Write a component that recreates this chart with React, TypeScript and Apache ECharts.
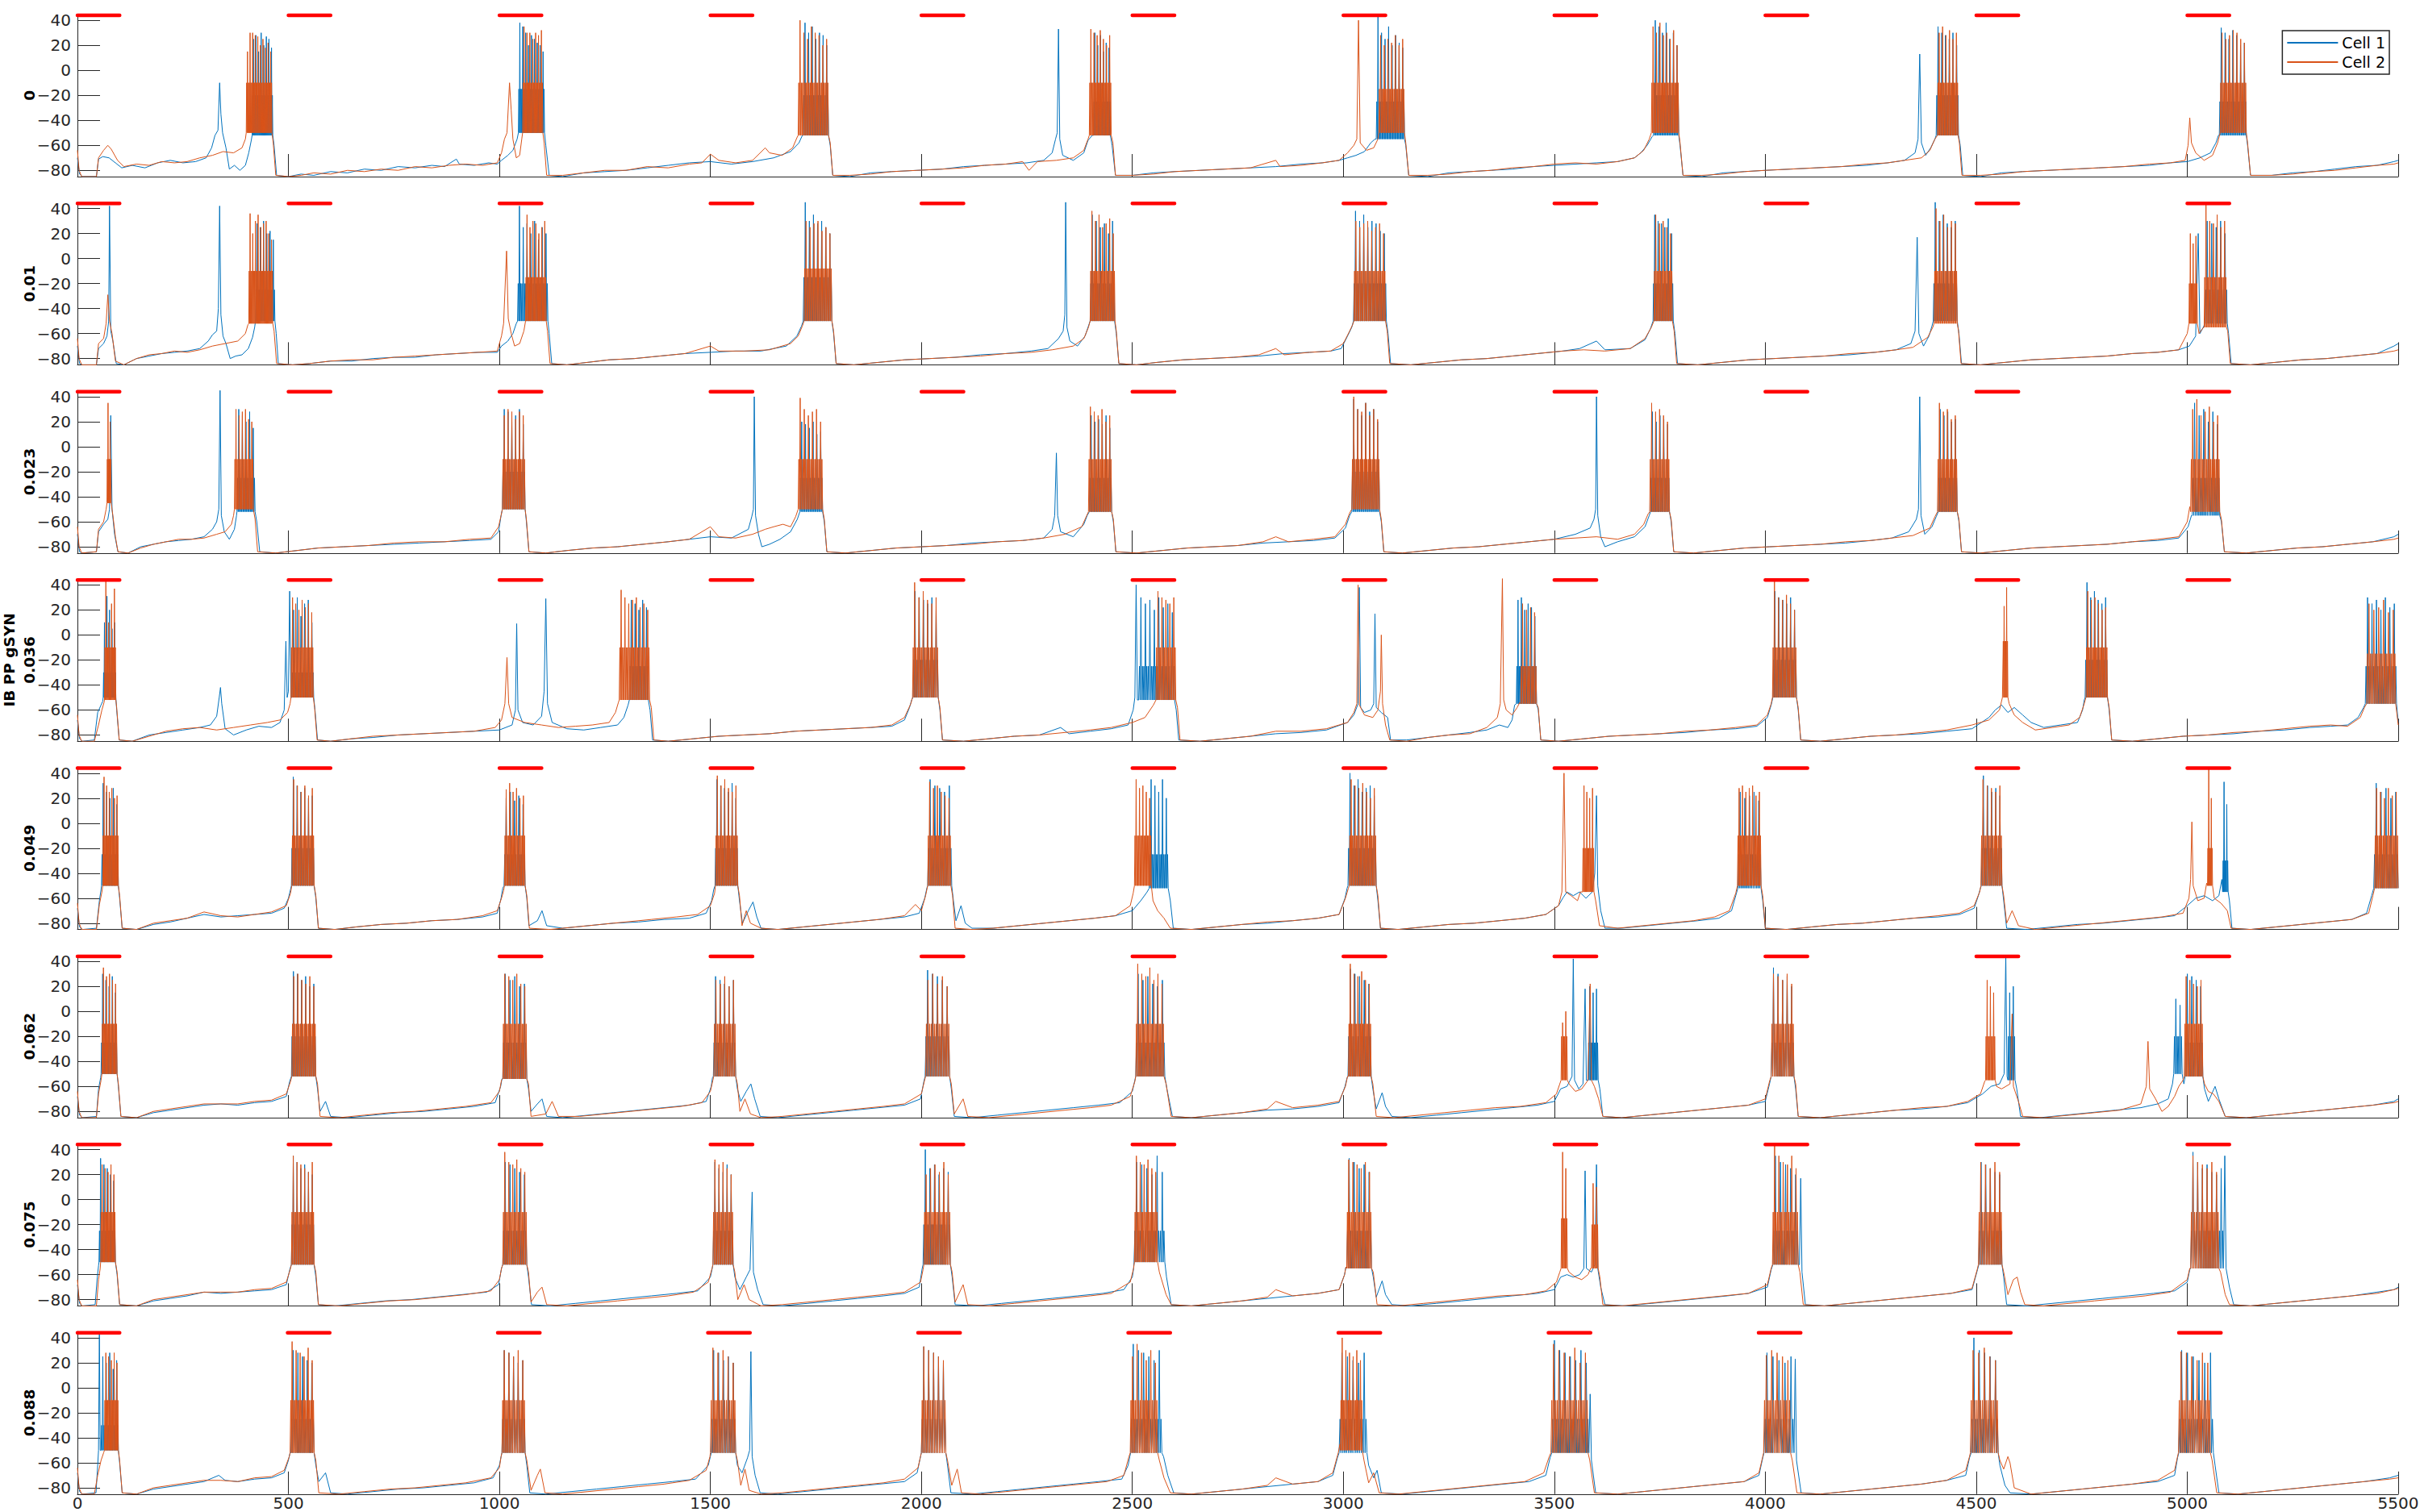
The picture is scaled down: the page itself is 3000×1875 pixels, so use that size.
import React, { useEffect, useRef } from "react";
import * as echarts from "echarts";

// ---------- labels / ticks ----------
const panelLabels = ["0", "0.01", "0.023", "IB PP gSYN\n0.036", "0.049", "0.062", "0.075", "0.088"];
const yTickValues = [-80, -60, -40, -20, 0, 20, 40];
const stimOnsets = [0, 500, 1000, 1500, 2000, 2500, 3000, 3500, 4000, 4500, 5000];
const stimOnsetsLast = [0, 498, 996, 1494, 1992, 2490, 2988, 3486, 3984, 4482, 4980];
const stimDuration = 100;
const stimLevel = 44;
const seriesNames = ["Cell 1", "Cell 2"];
const seriesColors = ["#0072BD", "#D95319"];

// ---------- traces: knots [t, v, t, v ...] ; bursts [t0, t1, low, fill, ...spike peaks] ----------
// Panel 1 (gSYN 0)
const p1Cell1Knots = [0,-70,5,-83,12,-85,45,-85,50,-71,60,-69,75,-70,90,-74,105,-78,130,-76,160,-78,190,-74,220,-72,250,-74,280,-73,305,-70,318,-62,326,-52,333,-48,337,-10,340,-35,344,-50,352,-62,360,-79,372,-76,385,-80,398,-76,406,-66,412,-56,
466,-60,472,-84,500,-85,530,-83,560,-84,600,-81,640,-82,680,-79,720,-80,760,-77,800,-78,840,-76,870,-77,898,-71,905,-75,940,-76,975,-74,995,-75,1005,-72,1020,-68,1032,-64,1042,-55,
1110,-60,1118,-84,1150,-85,1200,-82,1250,-81,1300,-80,1350,-78,1400,-76,1450,-74,1500,-73,1550,-75,1600,-73,1650,-70,1690,-65,1710,-58,1718,-52,
1784,-60,1790,-84,1830,-85,1880,-82,1930,-81,1990,-80,2050,-79,2100,-77,2150,-76,2200,-75,2250,-74,2290,-72,2310,-66,2318,-55,2322,-50,2325,33,2328,-55,2335,-68,2360,-72,2385,-66,2395,-56,2405,-52,
2452,-60,2460,-84,2500,-84,2550,-82,2600,-81,2660,-80,2720,-79,2780,-78,2840,-77,2900,-75,2950,-74,2990,-72,3010,-70,3030,-68,3050,-65,3065,-58,3075,-55,
3148,-60,3155,-84,3200,-85,3250,-82,3300,-81,3350,-80,3400,-79,3450,-77,3500,-76,3550,-75,3600,-74,3650,-73,3690,-70,3705,-66,3720,-60,3732,-53,
3798,-60,3805,-84,3850,-85,3900,-82,3950,-81,4000,-80,4060,-79,4120,-78,4180,-77,4240,-76,4290,-74,4330,-72,4355,-66,4362,-55,4366,13,4370,-58,4380,-68,4392,-62,4402,-55,
4462,-60,4468,-84,4510,-85,4560,-82,4610,-81,4670,-80,4730,-79,4790,-78,4850,-77,4910,-76,4960,-74,5000,-73,5030,-70,5055,-66,5068,-58,5074,-52,
5143,-60,5150,-84,5200,-84,5250,-82,5300,-81,5350,-79,5400,-77,5450,-76,5490,-73,5500,-72];
const p1Cell1Bursts = [[414,463,-52,-20,25,28,15,30,20,27,25,18],[1045,1107,-50,-15,38,35,30,20,28,25,22,20,15],[1720,1780,-52,-20,38,30,35,25,30,28,20],[2408,2448,-52,-25,30,20,28,15,22,18],[3078,3145,-55,-25,44,30,25,35,20,28,22,18],[3735,3795,-52,-20,40,35,30,38,25,30,20],[4405,4458,-52,-20,35,30,28,25,30,20],[5076,5140,-52,-25,34,30,25,32,28,20,22]];
const p1Cell2Knots = [0,-64,4,-80,10,-85,45,-85,50,-70,62,-64,72,-60,80,-63,95,-72,110,-77,140,-75,170,-76,200,-73,230,-74,260,-73,290,-70,320,-68,345,-65,370,-66,390,-62,398,-55,
464,-58,470,-84,500,-85,530,-84,560,-82,600,-83,640,-80,680,-81,720,-79,760,-80,800,-77,840,-78,880,-76,920,-75,960,-76,995,-74,1005,-66,1012,-55,1018,-50,1024,-10,1028,-32,1032,-55,1040,-70,1048,-68,1053,-55,
1106,-58,1112,-84,1150,-84,1200,-82,1250,-80,1300,-80,1350,-77,1400,-78,1450,-75,1480,-74,1500,-67,1520,-72,1560,-74,1600,-72,1630,-62,1640,-66,1670,-68,1695,-62,1705,-54,
1784,-58,1790,-84,1830,-84,1880,-83,1930,-81,1990,-80,2050,-79,2100,-78,2150,-76,2200,-75,2240,-73,2255,-80,2275,-73,2320,-72,2360,-70,2385,-64,2395,-55,
2454,-58,2460,-84,2500,-84,2550,-83,2600,-81,2660,-80,2720,-79,2780,-78,2840,-72,2850,-77,2900,-76,2950,-74,2990,-72,3010,-66,3025,-60,3032,-55,3036,40,3040,-58,3055,-64,3072,-62,3082,-55,
3148,-58,3155,-84,3200,-84,3250,-83,3300,-81,3350,-80,3400,-78,3450,-77,3500,-75,3550,-74,3600,-75,3650,-73,3690,-70,3712,-64,3725,-55,
3798,-58,3805,-84,3850,-84,3900,-83,3950,-81,4000,-80,4060,-79,4120,-78,4180,-77,4240,-75,4290,-74,4330,-72,4370,-70,4390,-64,4402,-55,
4460,-58,4466,-84,4510,-84,4560,-83,4610,-81,4670,-80,4730,-79,4790,-78,4850,-77,4910,-75,4960,-74,4995,-72,5002,-60,5006,-38,5010,-58,5020,-66,5040,-72,5060,-68,5072,-58,
5143,-58,5150,-84,5200,-84,5250,-83,5300,-81,5350,-80,5400,-78,5450,-76,5490,-75,5500,-74];
const p1Cell2Bursts = [[400,461,-50,-10,15,30,30,28,27,20,25,18,22,15],[1055,1103,-50,-10,35,30,30,25,30,28,32],[1708,1780,-52,-10,40,30,25,35,30,28,20,25],[2398,2450,-52,-10,33,30,28,32,25,20,28],[3084,3145,-50,-15,28,20,25,22,28,20,25],[3730,3795,-50,-10,35,30,38,28,30,25,32,20],[4408,4457,-52,-10,30,35,28,32,25,30],[5078,5140,-50,-10,30,25,28,32,30,25,22]];

// Panel 2 (gSYN 0.01)
const p2Cell1Knots = [0,-70,5,-84,12,-85,45,-85,50,-72,62,-68,70,-62,74,-50,76,42,79,-58,84,-66,92,-84,110,-85,140,-80,170,-78,200,-76,230,-75,260,-74,290,-72,310,-66,320,-61,330,-58,334,-40,337,42,340,-45,345,-62,352,-68,362,-80,375,-78,390,-77,405,-72,415,-63,420,-55,
471,-60,476,-84,510,-85,550,-84,600,-82,650,-82,700,-80,750,-79,800,-79,850,-77,900,-76,950,-75,995,-75,1005,-70,1020,-66,1032,-60,1040,-52,
1118,-60,1124,-84,1160,-85,1210,-83,1260,-81,1320,-80,1380,-78,1440,-76,1500,-75,1560,-74,1620,-74,1680,-70,1705,-62,1716,-54,
1792,-60,1798,-84,1840,-85,1900,-83,1960,-81,2020,-80,2080,-79,2140,-77,2200,-76,2260,-74,2300,-72,2325,-64,2336,-58,2340,-45,2342,45,2345,-55,2352,-66,2370,-70,2388,-62,2396,-54,
2462,-60,2468,-84,2510,-85,2560,-83,2620,-81,2680,-80,2740,-79,2800,-78,2860,-76,2920,-75,2970,-74,2995,-72,3010,-62,3020,-55,
3106,-60,3112,-84,3160,-85,3220,-83,3280,-81,3340,-80,3400,-78,3460,-76,3520,-74,3560,-72,3600,-66,3620,-73,3680,-72,3715,-65,3728,-56,
3786,-60,3792,-84,3840,-85,3900,-83,3960,-81,4020,-80,4080,-79,4140,-78,4200,-77,4260,-75,4310,-73,4345,-68,4355,-58,4360,17,4364,-60,4375,-70,4388,-62,4395,-54,
4459,-60,4465,-84,4510,-85,4570,-83,4630,-81,4690,-80,4750,-79,4810,-78,4870,-76,4930,-75,4980,-73,5005,-70,5020,-62,5026,20,5030,-60,5038,-55,
5098,-60,5104,-84,5150,-85,5210,-83,5270,-81,5330,-80,5390,-78,5450,-76,5490,-70,5500,-68];
const p2Cell1Bursts = [[422,468,-50,-25,28,25,30,20,22,15],[1043,1115,-50,-20,42,25,28,20,30,15,25,20],[1720,1788,-50,-15,45,30,35,28,30,25,20],[2400,2458,-50,-20,35,30,25,28,20,30],[3024,3102,-50,-20,38,30,35,25,30,28,22,20],[3734,3782,-50,-20,35,30,28,25,32,20],[4398,4455,-50,-20,45,30,35,28,25,30],[5042,5095,-52,-25,30,28,25,30,20]];
const p2Cell2Knots = [0,-64,4,-80,10,-85,45,-85,50,-68,62,-64,68,-52,72,-29,76,-50,82,-60,90,-82,110,-85,140,-80,170,-77,200,-76,230,-74,260,-75,290,-73,320,-70,350,-68,380,-66,398,-60,404,-53,
466,-58,472,-84,510,-85,550,-84,600,-82,650,-81,700,-81,750,-79,800,-78,850,-77,900,-76,950,-75,995,-74,1005,-62,1010,-52,1017,6,1021,-48,1028,-60,1036,-70,1048,-68,1058,-58,
1114,-58,1120,-84,1160,-85,1210,-83,1260,-81,1320,-80,1380,-78,1440,-76,1500,-70,1520,-74,1580,-74,1640,-73,1690,-68,1708,-62,1718,-54,
1792,-58,1798,-84,1840,-85,1900,-83,1960,-81,2020,-80,2080,-79,2140,-78,2200,-76,2260,-75,2310,-73,2360,-70,2385,-64,2396,-55,
2462,-58,2468,-84,2510,-85,2560,-83,2620,-81,2680,-80,2740,-79,2800,-77,2840,-72,2860,-77,2920,-75,2970,-74,3000,-68,3015,-58,3022,-53,
3104,-58,3110,-84,3160,-85,3220,-83,3280,-81,3340,-80,3400,-78,3460,-76,3520,-74,3570,-73,3620,-74,3680,-72,3715,-64,3730,-55,
3784,-58,3790,-84,3840,-85,3900,-83,3960,-81,4020,-80,4080,-79,4140,-78,4200,-76,4260,-75,4310,-73,4350,-71,4385,-63,4397,-55,
4458,-58,4464,-84,4510,-85,4570,-83,4630,-81,4690,-80,4750,-79,4810,-78,4870,-76,4930,-75,4980,-73,5000,-60,5028,-60,5036,-56,
5096,-58,5102,-84,5150,-85,5210,-83,5270,-81,5330,-80,5390,-78,5450,-76,5490,-74,5500,-73];
const p2Cell2Bursts = [[406,463,-52,-10,36,20,30,35,25,28,30,20,15],[1062,1111,-50,-15,35,25,30,28,20,25,30],[1722,1788,-50,-8,30,25,28,30,22,25,20],[2400,2459,-50,-10,38,30,35,25,28,32,20],[3025,3100,-50,-10,30,25,28,30,22,25,28,20],[3736,3780,-50,-10,35,28,30,25,20],[4400,4455,-52,-10,40,30,35,25,30,28],[5004,5024,-52,-20,20,12,18],[5040,5093,-55,-15,45,30,28,35,25,30]];

// Panel 3 (gSYN 0.023)
const p3Cell1Knots = [0,-70,5,-84,12,-85,45,-84,50,-68,62,-62,72,-58,76,-50,79,25,82,-50,88,-70,96,-84,120,-85,150,-80,180,-78,210,-76,240,-75,270,-74,300,-72,320,-66,330,-60,335,-50,338,45,341,-55,348,-68,360,-74,372,-66,377,-55,
425,-60,432,-84,470,-85,520,-83,570,-81,630,-80,690,-79,750,-78,810,-77,870,-76,930,-75,980,-74,998,-68,1004,-55,
1064,-60,1070,-84,1110,-85,1160,-83,1220,-81,1280,-80,1340,-78,1400,-76,1450,-74,1500,-72,1550,-73,1590,-66,1598,-56,1602,-50,1604,40,1607,-55,1614,-70,1622,-80,1640,-78,1665,-74,1690,-68,1706,-58,
1770,-60,1776,-84,1820,-85,1880,-83,1940,-81,2000,-80,2060,-79,2120,-77,2180,-76,2240,-75,2290,-73,2310,-66,2316,-55,2320,-5,2323,-55,2330,-68,2360,-72,2385,-62,2393,-55,
2455,-60,2461,-84,2510,-85,2570,-83,2630,-81,2690,-80,2750,-79,2810,-77,2870,-76,2930,-75,2980,-73,3005,-65,3015,-55,
3090,-60,3096,-84,3140,-85,3200,-83,3260,-81,3320,-80,3380,-78,3440,-76,3500,-74,3550,-70,3585,-65,3594,-58,3598,-50,3600,40,3603,-55,3610,-72,3620,-80,3650,-76,3690,-72,3715,-64,3725,-55,
3777,-60,3783,-84,3830,-85,3890,-83,3950,-81,4010,-80,4070,-79,4130,-78,4190,-77,4250,-75,4300,-73,4340,-68,4358,-58,4363,-50,4366,40,4369,-55,4378,-70,4395,-64,4405,-56,
4459,-60,4465,-84,4510,-85,4570,-83,4630,-81,4690,-80,4750,-79,4810,-78,4870,-76,4930,-75,4980,-73,5002,-64,5010,-55,
5081,-60,5088,-84,5140,-85,5200,-83,5260,-81,5320,-80,5380,-78,5440,-76,5490,-72,5500,-70];
const p3Cell1Bursts = [[378,421,-52,-25,30,25,20,28,15],[1007,1061,-50,-20,30,28,20,25,30,18],[1712,1766,-52,-25,20,18,15,20,10,12],[2398,2451,-52,-25,25,20,22,18,25,15],[3020,3086,-52,-20,38,30,25,35,28,30,20],[3728,3773,-52,-25,28,20,25,22,18],[4410,4455,-52,-25,30,25,28,20,22],[5012,5077,-55,-25,35,25,30,20,28,18]];
const p3Cell2Knots = [0,-64,4,-80,10,-85,45,-84,50,-66,62,-60,68,-50,84,-55,90,-72,96,-84,120,-85,150,-81,180,-78,210,-76,240,-74,270,-74,300,-73,330,-70,350,-68,365,-62,370,-55,
421,-58,427,-84,470,-85,520,-83,570,-81,630,-80,690,-79,750,-77,810,-76,870,-76,930,-74,980,-73,998,-64,1004,-55,
1064,-58,1070,-84,1110,-85,1160,-83,1220,-81,1280,-80,1340,-78,1400,-76,1450,-74,1500,-64,1520,-72,1560,-73,1600,-70,1630,-66,1650,-64,1672,-62,1690,-64,1702,-56,
1770,-58,1776,-84,1820,-85,1880,-83,1940,-81,2000,-80,2060,-79,2120,-78,2180,-76,2240,-75,2290,-73,2340,-70,2380,-64,2392,-55,
2455,-58,2461,-84,2510,-85,2570,-83,2630,-81,2690,-80,2750,-79,2810,-76,2840,-72,2870,-76,2930,-74,2980,-72,3005,-62,3015,-53,
3090,-58,3096,-84,3140,-85,3200,-83,3260,-81,3320,-80,3380,-78,3440,-76,3500,-74,3550,-73,3600,-72,3650,-74,3690,-70,3712,-62,3722,-54,
3777,-58,3783,-84,3830,-85,3890,-83,3950,-81,4010,-80,4070,-79,4130,-78,4190,-76,4250,-75,4300,-73,4350,-71,4390,-65,4402,-56,
4459,-58,4465,-84,4510,-85,4570,-83,4630,-81,4690,-80,4750,-79,4810,-78,4870,-76,4930,-74,4980,-72,5000,-60,5006,-48,
5081,-58,5088,-84,5140,-85,5200,-83,5260,-81,5320,-80,5380,-78,5440,-76,5490,-74,5500,-73];
const p3Cell2Bursts = [[70,80,-45,-10,35,20],[372,417,-50,-10,30,25,28,30,22,20],[1007,1061,-50,-10,25,30,28,22,28,25],[1708,1766,-50,-10,39,30,25,28,30,20],[2396,2451,-52,-10,32,28,25,30,20,25],[3020,3086,-50,-10,40,30,28,35,25,30,22],[3726,3773,-52,-10,35,28,30,25,20],[4408,4455,-52,-10,35,28,30,22,25],[5008,5077,-52,-10,30,38,25,28,32,20,25]];

// Panel 4 (gSYN 0.036)
const p4Cell1Knots = [0,-68,5,-83,12,-85,40,-84,48,-62,56,-56,60,-53,
93,-60,99,-84,130,-85,170,-80,210,-78,250,-76,290,-74,315,-72,330,-65,336,-50,339,-42,342,-55,350,-75,370,-80,400,-76,430,-73,460,-74,480,-70,490,-60,494,-5,497,-50,500,-45,503,35,506,-50,
563,-60,569,-84,600,-85,650,-83,700,-82,760,-80,820,-79,880,-78,940,-77,1000,-76,1030,-72,1038,-60,1041,9,1044,-60,1055,-70,1080,-72,1100,-65,1106,-45,1110,29,1114,-55,1125,-70,1160,-75,1200,-76,1240,-74,1280,-72,1295,-66,1305,-56,
1357,-60,1363,-84,1400,-85,1460,-83,1520,-81,1580,-80,1640,-79,1700,-77,1760,-76,1820,-75,1880,-74,1930,-73,1960,-68,1972,-58,1977,-52,
2044,-60,2050,-84,2100,-85,2160,-83,2220,-81,2280,-80,2330,-74,2350,-79,2400,-77,2450,-75,2490,-72,2502,-60,2506,-50,2509,40,2512,-52,
2604,-60,2610,-84,2660,-85,2720,-83,2780,-81,2840,-79,2900,-78,2960,-76,3010,-70,3025,-64,3035,-55,3038,38,3041,-58,3050,-62,3065,-60,3072,-55,3075,17,3078,-58,3090,-62,3105,-66,3112,-84,3150,-84,3200,-82,3250,-80,3300,-78,3340,-76,3370,-72,3390,-74,3400,-68,3406,-56,
3462,-60,3468,-84,3510,-85,3570,-83,3630,-81,3690,-80,3750,-79,3810,-78,3870,-76,3930,-75,3980,-73,4005,-66,4014,-56,
4078,-60,4084,-84,4130,-85,4190,-83,4250,-81,4310,-80,4370,-79,4430,-77,4490,-75,4530,-66,4545,-60,4560,-56,4575,-62,4590,-58,4610,-64,4630,-70,4660,-74,4700,-72,4740,-70,4752,-60,4756,-52,
4815,-60,4821,-84,4870,-85,4930,-83,4990,-81,5050,-80,5110,-79,5170,-77,5230,-76,5290,-74,5340,-73,5380,-72,5405,-66,5418,-58,
5500,-70];
const p4Cell1Bursts = [[61,91,-50,-30,10,31,20,5,10],[508,560,-50,-30,20,30,15,25,28,10],[1308,1353,-52,-25,28,25,20,28,22],[1980,2040,-50,-20,35,30,28,25,30,20],[2515,2600,-52,-25,30,25,28,20,30,22,25,18],[3410,3458,-55,-25,28,30,20,25,22,15],[4018,4074,-50,-20,35,30,28,25,30,20],[4758,4811,-50,-20,42,30,35,28,25,30],[5422,5496,-55,-25,30,25,28,20,30,22,25]];
const p4Cell2Knots = [0,-64,4,-80,10,-85,40,-85,50,-72,58,-60,63,-54,
93,-58,99,-84,130,-85,170,-81,210,-77,250,-75,290,-74,330,-76,370,-74,410,-72,450,-70,480,-68,498,-62,504,-55,
562,-58,568,-84,600,-85,650,-83,700,-81,760,-80,820,-79,880,-78,940,-77,990,-74,1005,-68,1013,-55,1018,-18,1022,-55,1030,-66,1060,-70,1100,-72,1140,-74,1180,-73,1220,-72,1260,-70,1275,-62,1282,-54,
1360,-58,1366,-84,1400,-85,1460,-83,1520,-81,1580,-80,1640,-79,1700,-77,1760,-76,1820,-75,1880,-74,1930,-72,1960,-66,1975,-55,
2044,-58,2050,-84,2100,-85,2160,-83,2220,-81,2280,-80,2340,-78,2400,-76,2450,-74,2500,-70,2530,-66,2550,-56,
2607,-58,2613,-84,2660,-85,2720,-83,2780,-81,2840,-77,2900,-77,2960,-75,3010,-70,3025,-62,3032,-55,3035,40,3038,-56,3050,-64,3070,-66,3082,-60,3088,-45,3090,0,3093,-55,3100,-72,3110,-84,3150,-85,3200,-82,3250,-80,3300,-79,3340,-74,3365,-66,3372,-55,3377,45,3380,-52,3386,-60,3400,-64,3412,-58,3418,-54,
3462,-58,3468,-84,3510,-85,3570,-83,3630,-81,3690,-80,3750,-79,3810,-77,3870,-76,3930,-74,3980,-72,4005,-64,4014,-55,
4078,-58,4084,-84,4130,-85,4190,-83,4250,-81,4310,-80,4370,-78,4430,-76,4490,-72,4530,-68,4555,-60,4562,-50,
4578,-55,4590,-64,4610,-70,4640,-76,4680,-74,4720,-72,4745,-66,4755,-56,
4815,-58,4821,-84,4870,-85,4930,-83,4990,-81,5050,-80,5110,-78,5170,-77,5230,-75,5290,-73,5340,-72,5380,-73,5410,-66,5420,-58,
5500,-72];
const p4Cell2Bursts = [[64,91,-52,-10,45,10,25,37],[506,559,-50,-10,30,25,20,28,22,25,18],[1284,1356,-52,-10,36,30,25,28,30,22,25,20],[1979,2040,-50,-10,42,30,35,28,25,30],[2556,2603,-52,-10,35,30,28,25,30],[3420,3458,-55,-25,25,20,22,18],[4017,4074,-50,-10,45,30,28,32,25,20],[4563,4575,-50,-5,23,38],[4760,4811,-50,-10,35,28,30,25,20,22],[5425,5494,-55,-15,25,20,22,28,18,20]];

// Panel 5 (gSYN 0.049)
const p5Cell1Knots = [0,-68,5,-83,12,-85,45,-84,52,-62,56,-53,
100,-60,106,-84,140,-85,180,-81,220,-79,260,-76,300,-73,340,-75,380,-74,420,-73,460,-72,490,-68,500,-60,505,-53,
565,-60,571,-84,610,-85,660,-83,720,-81,780,-80,840,-78,900,-77,960,-75,995,-72,1004,-60,1008,-52,
1065,-60,1070,-82,1090,-78,1101,-70,1112,-82,1150,-84,1210,-82,1270,-80,1330,-79,1390,-77,1450,-76,1490,-72,1503,-62,1508,-53,
1569,-62,1576,-80,1590,-70,1601,-63,1610,-75,1620,-84,1660,-85,1720,-83,1780,-81,1840,-79,1900,-77,1960,-75,1995,-72,2008,-60,2013,-52,
2076,-62,2082,-78,2094,-66,2104,-80,2120,-84,2170,-84,2230,-82,2290,-80,2350,-78,2410,-76,2460,-74,2500,-70,2520,-62,2535,-55,
2590,-62,2597,-84,2640,-85,2700,-83,2760,-81,2820,-80,2880,-78,2940,-76,2990,-73,3004,-60,3009,-52,
3082,-62,3088,-84,3130,-85,3190,-83,3250,-81,3310,-80,3370,-78,3430,-76,3480,-73,3510,-66,3520,-60,3530,-55,3545,-58,3560,-55,3575,-60,3590,-55,3596,-40,3600,22,3603,-50,3610,-70,3620,-84,3660,-84,3720,-82,3780,-80,3840,-78,3890,-76,3920,-70,3930,-58,
3994,-62,4000,-84,4050,-85,4110,-83,4170,-81,4230,-80,4290,-78,4350,-76,4410,-75,4460,-73,4495,-68,4505,-58,4510,-52,
4565,-62,4572,-84,4620,-85,4680,-83,4740,-81,4800,-80,4860,-78,4920,-76,4970,-74,5000,-66,5020,-60,5040,-58,5060,-62,5075,-58,5082,-45,
5100,-62,5106,-84,5150,-85,5210,-83,5270,-81,5330,-79,5390,-77,5425,-72,5437,-58];
const p5Cell1Bursts = [[57,97,-50,-25,32,25,20,28,15],[507,561,-50,-20,37,30,25,28,20,22],[1011,1061,-50,-25,20,25,18,22,15],[1511,1565,-50,-20,35,30,28,25,32,20],[2015,2072,-50,-20,35,30,28,25,30],[2540,2585,-52,-25,35,30,25,35,20],[3011,3078,-50,-20,40,30,35,25,28,30,22],[3935,3990,-52,-25,25,20,22,25,18],[4512,4561,-50,-20,38,30,25,28,22],[5084,5097,-55,-30,33,15],[5442,5500,-52,-25,32,25,28,20,25]];
const p5Cell2Knots = [0,-64,4,-80,10,-85,45,-85,52,-65,58,-55,
100,-58,106,-84,140,-85,180,-80,220,-78,260,-76,300,-71,340,-74,380,-75,420,-73,460,-71,495,-66,505,-56,
565,-58,571,-84,610,-85,660,-83,720,-81,780,-80,840,-78,900,-77,960,-74,995,-70,1005,-60,1010,-54,
1065,-58,1071,-84,1120,-85,1180,-83,1240,-81,1300,-79,1360,-77,1420,-75,1470,-73,1500,-66,1510,-56,
1569,-58,1575,-82,1585,-70,1595,-80,1620,-84,1660,-85,1720,-83,1780,-81,1840,-79,1900,-77,1960,-74,1986,-65,2000,-70,2010,-58,
2074,-58,2080,-84,2120,-85,2170,-84,2230,-82,2290,-80,2350,-78,2410,-76,2460,-74,2495,-66,2502,-56,
2549,-62,2560,-70,2575,-76,2590,-84,2640,-85,2700,-83,2760,-81,2820,-79,2880,-78,2940,-76,2990,-73,3005,-60,3012,-52,
3082,-58,3088,-84,3130,-85,3190,-83,3250,-81,3310,-80,3370,-78,3430,-76,3480,-73,3510,-66,3518,-55,3523,40,3527,-55,3540,-58,3555,-62,3562,-55,
3598,-62,3607,-82,3650,-84,3710,-82,3770,-80,3830,-78,3880,-75,3915,-70,3930,-56,
3994,-58,4000,-84,4050,-85,4110,-83,4170,-81,4230,-80,4290,-78,4350,-76,4410,-74,4460,-72,4495,-66,4508,-55,
4565,-58,4572,-80,4585,-70,4600,-82,4640,-85,4700,-83,4760,-81,4820,-79,4880,-77,4940,-75,4990,-72,5004,-60,5008,-45,5011,1,5014,-50,5025,-62,5040,-60,5046,-48,
5064,-60,5080,-64,5095,-70,5104,-84,5150,-85,5210,-83,5270,-81,5330,-79,5390,-77,5430,-72,5440,-58];
const p5Cell2Bursts = [[60,97,-50,-10,37,30,25,28,20,22],[508,561,-50,-10,35,30,25,30,22,28],[1012,1061,-50,-10,27,32,25,28,20,22],[1512,1565,-50,-10,38,30,35,28,25,30],[2015,2070,-50,-10,33,28,30,25,22,20],[2505,2545,-50,-10,35,28,30,25,20],[3014,3078,-50,-10,35,30,28,32,25,20,28],[3567,3594,-55,-20,30,25,20,28],[3934,3990,-50,-10,28,30,25,28,30,22,25],[4511,4561,-50,-10,35,30,28,25,30],[5048,5060,-50,-20,45,20],[5444,5500,-52,-10,28,25,20,28,22,25]];

// Panel 6 (gSYN 0.062)
const p6Cell1Knots = [0,-68,5,-83,12,-85,45,-84,50,-62,55,-53,
97,-60,103,-84,140,-85,180,-81,220,-79,260,-77,300,-75,340,-74,380,-75,420,-73,460,-72,495,-68,503,-56,
569,-62,575,-80,588,-72,600,-84,640,-85,700,-83,760,-81,820,-80,880,-78,940,-76,990,-73,1003,-60,1006,-54,
1069,-62,1075,-80,1090,-74,1101,-70,1112,-84,1150,-85,1210,-83,1270,-81,1330,-79,1390,-77,1450,-75,1490,-72,1502,-60,1505,-53,
1564,-62,1572,-72,1585,-64,1596,-58,1605,-70,1618,-84,1660,-85,1720,-83,1780,-81,1840,-79,1900,-77,1960,-75,1998,-70,2006,-56,
2071,-62,2078,-84,2120,-85,2180,-83,2240,-81,2300,-79,2360,-77,2420,-75,2470,-73,2500,-64,2506,-55,
2582,-62,2595,-84,2640,-85,2700,-83,2760,-81,2820,-79,2880,-78,2940,-76,2990,-73,3004,-60,3009,-53,
3070,-62,3078,-78,3092,-65,3100,-76,3115,-84,3160,-85,3220,-83,3280,-81,3340,-79,3400,-77,3460,-75,3500,-72,3515,-62,3530,-60,3542,-52,3545,42,3548,-55,3558,-62,3568,-58,3573,18,3576,-55,
3608,-62,3615,-84,3660,-85,3720,-83,3780,-81,3840,-79,3900,-77,3960,-75,4000,-72,4010,-58,
4072,-62,4078,-84,4130,-85,4190,-83,4250,-81,4310,-79,4370,-78,4430,-76,4480,-73,4515,-66,4535,-60,4555,-58,4566,-50,4570,45,4573,-52,
4596,-62,4605,-84,4650,-85,4710,-83,4770,-81,4830,-79,4890,-77,4930,-74,4955,-70,4965,-58,4992,-58,
5041,-62,5050,-72,5066,-60,5075,-70,5090,-84,5140,-85,5200,-83,5260,-81,5320,-79,5380,-77,5440,-75,5490,-72,5500,-70];
const p6Cell1Bursts = [[56,94,-50,-25,30,25,20,28,15],[507,565,-52,-20,32,30,25,28,20,22],[1008,1065,-54,-25,30,25,28,20,22],[1507,1560,-52,-25,28,25,22,20,25],[2009,2067,-52,-20,33,30,28,25,20],[2508,2577,-52,-25,30,25,28,22,20,25],[3011,3066,-52,-20,34,30,28,25,22],[3580,3604,-55,-25,20,15,18],[4014,4068,-52,-25,35,30,25,28,20],[4575,4592,-55,-20,15,20],[4968,4988,-50,-20,10,5],[4995,5037,-52,-25,30,28,25,20]];
const p6Cell2Knots = [0,-64,4,-80,10,-85,45,-85,50,-66,56,-55,
97,-58,103,-84,140,-85,180,-80,220,-78,260,-76,300,-74,340,-74,380,-74,420,-72,460,-71,495,-66,505,-56,
569,-58,575,-84,620,-85,680,-83,740,-81,800,-80,860,-78,920,-76,980,-73,1000,-64,1005,-55,
1069,-58,1075,-84,1110,-82,1125,-72,1140,-84,1190,-84,1250,-82,1310,-80,1370,-78,1430,-76,1480,-73,1500,-64,1506,-55,
1564,-58,1570,-80,1582,-70,1595,-82,1620,-85,1670,-84,1730,-82,1790,-80,1850,-78,1910,-76,1960,-74,2000,-66,2007,-56,
2071,-58,2078,-82,2099,-70,2110,-84,2160,-85,2220,-83,2280,-81,2340,-79,2400,-77,2450,-75,2495,-68,2506,-56,
2580,-58,2592,-84,2640,-85,2700,-83,2760,-81,2820,-78,2840,-72,2880,-77,2940,-75,2990,-72,3005,-60,3010,-52,
3070,-58,3078,-84,3120,-85,3180,-83,3240,-81,3300,-79,3360,-77,3420,-76,3480,-73,3505,-66,3513,-58,
3535,-58,3550,-64,3565,-62,3580,-55,3585,22,3588,-55,3595,-60,3605,-70,3615,-84,3660,-85,3720,-83,3780,-81,3840,-79,3900,-77,3960,-75,4000,-70,4010,-56,
4072,-58,4078,-84,4130,-85,4190,-83,4250,-81,4310,-79,4370,-77,4430,-76,4480,-72,4510,-66,4520,-56,
4548,-60,4560,-62,4580,-58,4585,-2,4588,-60,4600,-72,4610,-84,4660,-85,4720,-83,4780,-81,4840,-79,4890,-74,4903,-60,4907,-24,4911,-62,4925,-70,4940,-80,4955,-76,4970,-68,4980,-60,4990,-55,
5041,-58,5050,-64,5062,-66,5075,-72,5090,-84,5140,-85,5200,-83,5260,-81,5320,-79,5380,-77,5440,-75,5490,-73,5500,-72];
const p6Cell2Bursts = [[58,94,-50,-10,35,28,30,25,22],[508,565,-52,-10,28,30,25,22,28,20],[1008,1065,-54,-10,30,28,25,30,22,20],[1508,1560,-52,-10,25,22,28,20,25],[2010,2067,-52,-10,25,30,22,28,20],[2508,2575,-52,-10,38,30,28,35,25,30,22],[3012,3066,-52,-10,38,30,28,32,25,22],[3516,3531,-55,-20,-9,0],[4014,4068,-52,-10,30,28,25,30,22],[4522,4545,-55,-20,25,20,15],[4993,5037,-52,-10,28,25,22,20,25]];

// Panel 7 (gSYN 0.075)
const p7Cell1Knots = [0,-68,5,-83,12,-85,42,-84,47,-62,50,-53,
94,-60,100,-84,140,-85,180,-81,220,-79,260,-77,300,-74,340,-75,380,-74,420,-73,460,-72,495,-68,504,-55,
565,-62,571,-84,610,-85,670,-83,730,-81,790,-80,850,-78,910,-76,970,-74,998,-68,1005,-55,
1069,-62,1076,-84,1120,-85,1180,-83,1240,-81,1300,-79,1360,-77,1420,-75,1470,-73,1500,-62,1505,-54,
1558,-62,1570,-72,1585,-62,1594,-56,1599,6,1602,-58,1612,-72,1625,-84,1670,-85,1730,-83,1790,-81,1850,-79,1910,-77,1960,-75,1995,-70,2002,-55,
2073,-62,2080,-84,2130,-85,2190,-83,2250,-81,2310,-79,2370,-77,2430,-75,2480,-72,2500,-62,2503,-55,
2581,-62,2592,-84,2640,-85,2700,-83,2760,-81,2820,-79,2880,-77,2940,-75,2990,-72,3003,-60,3006,-54,
3071,-62,3078,-78,3092,-65,3100,-76,3115,-84,3160,-85,3220,-83,3280,-81,3340,-79,3400,-77,3460,-75,3500,-72,3515,-62,3530,-60,3545,-62,3560,-60,3570,-55,3573,23,3576,-55,3588,-58,3596,-52,3600,28,3603,-55,3610,-70,3620,-84,3670,-85,3730,-83,3790,-81,3850,-79,3910,-77,3960,-75,4005,-70,4014,-56,
4081,-52,4084,17,4087,-58,4095,-84,4140,-85,4200,-83,4260,-81,4320,-79,4380,-77,4440,-75,4490,-72,4503,-56,
4565,-62,4572,-84,4620,-85,4680,-83,4740,-81,4800,-79,4860,-77,4920,-75,4970,-73,5000,-66,5006,-56,
5089,35,5092,-55,5100,-70,5110,-84,5150,-85,5210,-83,5270,-81,5330,-79,5390,-77,5450,-74,5490,-72,5500,-70];
const p7Cell1Bursts = [[51,90,-50,-25,33,28,25,20,15],[507,561,-52,-20,35,30,25,28,22,20],[1008,1065,-52,-25,30,28,25,22,20],[1506,1554,-52,-25,30,25,22,28,20],[2004,2069,-52,-20,40,25,28,20,25,22],[2504,2577,-50,-25,30,28,25,20,35,22],[3008,3067,-55,-25,33,30,25,28,22],[4018,4078,-52,-25,35,30,28,25,20],[4506,4561,-52,-25,30,28,25,22,20],[5008,5086,-55,-25,38,30,25,28,22,20,25]];
const p7Cell2Knots = [0,-64,4,-80,10,-85,45,-85,50,-64,54,-55,
94,-58,100,-84,140,-85,180,-80,220,-78,260,-76,300,-74,340,-74,380,-74,420,-72,460,-71,495,-66,505,-55,
565,-58,571,-84,620,-85,680,-83,740,-81,800,-80,860,-78,920,-76,980,-73,1000,-64,1005,-55,
1069,-58,1075,-82,1090,-74,1101,-70,1112,-84,1160,-85,1220,-83,1280,-81,1340,-79,1400,-77,1460,-74,1495,-66,1504,-55,
1558,-58,1565,-80,1580,-68,1592,-80,1620,-85,1670,-84,1730,-82,1790,-80,1850,-78,1910,-76,1960,-74,1998,-66,2004,-56,
2073,-58,2080,-82,2099,-68,2110,-84,2160,-85,2220,-83,2280,-81,2340,-79,2400,-77,2450,-75,2495,-66,2503,-55,
2564,-58,2580,-76,2592,-84,2640,-85,2700,-83,2760,-81,2820,-78,2840,-72,2880,-77,2940,-75,2990,-72,3003,-60,3006,-54,
3071,-58,3080,-84,3130,-85,3190,-83,3250,-81,3310,-79,3370,-77,3430,-76,3480,-73,3505,-66,3513,-58,
3535,-58,3550,-62,3565,-64,3580,-60,3586,-55,
3608,-62,3615,-84,3660,-85,3720,-83,3780,-81,3840,-79,3900,-77,3960,-75,4005,-68,4014,-55,
4082,-58,4090,-84,4140,-85,4200,-83,4260,-81,4320,-79,4380,-77,4440,-75,4490,-71,4503,-55,
4565,-58,4575,-76,4588,-64,4597,-62,4605,-74,4615,-84,4660,-85,4720,-83,4780,-81,4840,-79,4900,-77,4960,-74,5000,-64,5006,-55,
5079,-58,5090,-76,5100,-84,5150,-85,5210,-83,5270,-81,5330,-79,5390,-77,5450,-75,5490,-72,5500,-71];
const p7Cell2Bursts = [[55,90,-50,-10,28,25,22,28,20],[507,561,-52,-10,35,30,28,25,22,30],[1008,1065,-52,-10,38,30,28,32,25,22],[1506,1554,-52,-10,32,28,30,25,20],[2006,2069,-52,-10,20,25,28,22,30,20],[2505,2560,-50,-10,35,30,28,32,25,22],[3008,3067,-55,-10,32,30,28,25,30,22],[3516,3531,-55,-15,38,25],[3588,3604,-55,-20,13,10],[4017,4078,-52,-10,44,35,30,28,35,25],[4505,4561,-52,-10,30,28,25,30,22],[5008,5075,-55,-10,35,30,28,25,30,22]];

// Panel 8 (gSYN 0.088)
const p8Cell1Knots = [0,-68,5,-83,12,-85,44,-84,48,-62,50,-50,52,45,54,-50,
100,-60,106,-84,140,-85,180,-81,220,-79,260,-77,300,-75,335,-70,350,-74,380,-75,420,-73,460,-72,490,-68,500,-58,504,-52,
565,-62,572,-75,588,-68,600,-84,640,-85,700,-83,760,-81,820,-80,880,-78,940,-76,985,-72,1000,-62,1004,-55,
1065,-62,1072,-84,1110,-85,1170,-83,1230,-81,1290,-79,1350,-77,1410,-75,1465,-73,1495,-62,1500,-55,
1564,-62,1575,-68,1588,-56,1593,-50,1596,29,1599,-55,1606,-70,1618,-84,1660,-85,1720,-83,1780,-81,1840,-79,1900,-77,1960,-75,1990,-68,1998,-55,
2062,-62,2070,-84,2120,-85,2180,-83,2240,-81,2300,-79,2360,-77,2420,-75,2475,-73,2490,-62,2494,-55,
2574,-55,2584,-70,2598,-84,2640,-85,2700,-83,2760,-81,2820,-79,2880,-77,2940,-75,2975,-70,2986,-56,
3060,-62,3072,-72,3080,-66,3090,-84,3140,-85,3200,-83,3260,-81,3320,-79,3380,-77,3440,-75,3480,-70,3490,-56,
3585,-5,3588,-58,3598,-84,3650,-85,3710,-83,3770,-81,3830,-79,3890,-77,3950,-75,3985,-70,3994,-56,
4071,23,4074,-58,4085,-84,4130,-85,4190,-83,4250,-81,4310,-79,4370,-77,4430,-74,4475,-70,4484,-56,
4556,-62,4568,-78,4580,-84,4630,-85,4690,-83,4750,-81,4810,-79,4870,-77,4930,-75,4970,-70,4977,-56,
5066,-62,5075,-84,5120,-85,5180,-83,5240,-81,5300,-79,5360,-77,5420,-75,5480,-72,5500,-70];
const p8Cell1Bursts = [[56,97,-50,-30,25,20,28,15,22],[506,561,-52,-25,30,28,25,22,20],[1006,1061,-52,-25,30,28,25,20,22],[1502,1560,-52,-25,30,28,22,25,20],[2000,2058,-52,-25,33,30,28,25,20],[2496,2570,-52,-25,35,30,28,25,22,30],[2990,3056,-52,-25,28,25,22,20,28],[3494,3582,-52,-25,38,30,28,25,22,30,20],[3997,4068,-52,-25,28,25,22,20,25],[4488,4552,-52,-25,40,30,28,25,22],[4980,5062,-52,-25,30,28,25,22,20,28]];
const p8Cell2Knots = [0,-64,4,-80,10,-85,40,-85,48,-70,56,-58,62,-52,
100,-58,106,-84,140,-85,180,-80,220,-78,260,-76,300,-74,340,-74,380,-75,420,-72,460,-71,490,-66,502,-55,
565,-58,572,-84,620,-85,680,-83,740,-81,800,-80,860,-78,920,-76,980,-72,1000,-64,1004,-55,
1065,-58,1075,-82,1090,-70,1097,-65,1108,-84,1150,-85,1210,-83,1270,-81,1330,-79,1390,-77,1450,-74,1490,-66,1499,-55,
1564,-58,1572,-78,1582,-65,1592,-82,1620,-85,1670,-84,1730,-82,1790,-80,1850,-78,1910,-76,1960,-73,1992,-64,1998,-55,
2062,-58,2072,-78,2085,-65,2095,-84,2140,-85,2200,-83,2260,-81,2320,-79,2380,-77,2440,-75,2480,-70,2492,-55,
2564,-58,2575,-72,2590,-84,2640,-85,2700,-83,2760,-81,2820,-78,2840,-72,2880,-77,2940,-75,2975,-68,2988,-52,2992,-45,
3049,-58,3060,-76,3072,-68,3085,-84,3130,-85,3190,-83,3250,-81,3310,-79,3370,-77,3430,-75,3475,-68,3488,-55,
3584,-58,3595,-84,3650,-85,3710,-83,3770,-81,3830,-79,3890,-77,3950,-75,3985,-68,3994,-55,
4064,-58,4075,-84,4130,-85,4190,-83,4250,-81,4310,-79,4370,-77,4430,-74,4475,-66,4484,-55,
4556,-58,4565,-65,4575,-55,4580,-60,4590,-80,4630,-85,4690,-83,4750,-81,4810,-79,4870,-77,4930,-74,4970,-66,4977,-55,
5059,-58,5070,-84,5120,-85,5180,-83,5240,-81,5300,-79,5360,-77,5420,-75,5480,-73,5500,-72];
const p8Cell2Bursts = [[64,97,-50,-10,28,25,22,28,20],[504,561,-52,-10,37,30,28,25,32,22],[1006,1061,-52,-10,30,28,25,30,22],[1500,1560,-52,-10,32,28,30,25,20],[2000,2058,-52,-10,33,30,28,25,22],[2495,2560,-52,-10,25,35,28,22,30,20],[2993,3045,-50,-10,40,30,28,25,30,22],[3492,3580,-52,-10,35,30,28,25,32,20,28],[3996,4060,-52,-10,26,30,28,25,22],[4486,4552,-52,-10,30,28,32,25,22],[4979,5055,-52,-10,29,28,25,22,28,20]];

const cell1Knots = [p1Cell1Knots, p2Cell1Knots, p3Cell1Knots, p4Cell1Knots, p5Cell1Knots, p6Cell1Knots, p7Cell1Knots, p8Cell1Knots];
const cell1Bursts = [p1Cell1Bursts, p2Cell1Bursts, p3Cell1Bursts, p4Cell1Bursts, p5Cell1Bursts, p6Cell1Bursts, p7Cell1Bursts, p8Cell1Bursts];
const cell2Knots = [p1Cell2Knots, p2Cell2Knots, p3Cell2Knots, p4Cell2Knots, p5Cell2Knots, p6Cell2Knots, p7Cell2Knots, p8Cell2Knots];
const cell2Bursts = [p1Cell2Bursts, p2Cell2Bursts, p3Cell2Bursts, p4Cell2Bursts, p5Cell2Bursts, p6Cell2Bursts, p7Cell2Bursts, p8Cell2Bursts];

// ---------- layout ----------
const GRID_LEFT = 96;
const GRID_WIDTH = 2877;
const PANEL_TOP0 = 17.4;
const PANEL_PITCH = 233.4;
const PANEL_HEIGHT = 201.6;
const AXIS_COLOR = "#262626";
const FONT = "DejaVu Sans";

function buildTrace(knots: number[], bursts: number[][]): number[][] {
  const pts: number[][] = [];
  for (let i = 0; i < knots.length; i += 2) pts.push([knots[i], knots[i + 1]]);
  for (const b of bursts) {
    const [t0, t1, lo, hi, ...peaks] = b;
    const dt = (t1 - t0) / peaks.length;
    peaks.forEach((p, k) => {
      const s = t0 + k * dt;
      pts.push([s, lo], [s + 0.17 * dt, hi], [s + 0.33 * dt, lo], [s + 0.5 * dt, p], [s + 0.67 * dt, lo], [s + 0.83 * dt, hi]);
    });
    pts.push([t1, lo]);
  }
  pts.sort((a, b) => a[0] - b[0]);
  return pts;
}

function stimData(onsets: number[]): any[] {
  const d: any[] = [];
  onsets.forEach((t) => {
    d.push([t, stimLevel], [t + stimDuration, stimLevel], [t + stimDuration, "-"]);
  });
  return d;
}

export default function App() {
  const ref = useRef<HTMLDivElement>(null);
  useEffect(() => {
    if (!ref.current) return;
    const chart = echarts.init(ref.current, undefined, { renderer: "svg" });
    const grids: any[] = [];
    const xAxes: any[] = [];
    const yAxes: any[] = [];
    const series: any[] = [];
    for (let i = 0; i < 8; i++) {
      const last = i === 7;
      grids.push({
        left: GRID_LEFT, width: GRID_WIDTH, top: PANEL_TOP0 + i * PANEL_PITCH, height: PANEL_HEIGHT,
        containLabel: false, outerBoundsMode: "none",
      });
      xAxes.push({
        type: "value", gridIndex: i, min: 0, max: 5500, interval: 500,
        axisLine: { show: true, onZero: false, lineStyle: { color: AXIS_COLOR, width: 1 } },
        axisTick: { show: true, inside: true, length: 28, lineStyle: { color: AXIS_COLOR, width: 1 } },
        axisLabel: {
          show: last, fontFamily: FONT, fontSize: 20, lineHeight: 20, color: AXIS_COLOR, margin: 1,
          showMinLabel: true, showMaxLabel: true, formatter: (v: number) => String(v),
        },
        splitLine: { show: false },
      });
      yAxes.push({
        type: "value", gridIndex: i, min: -85, max: 45,
        name: panelLabels[i], nameLocation: "middle", nameRotate: 90, nameGap: 47, nameMoveOverlap: false,
        nameTextStyle: { fontFamily: FONT, fontSize: 18.5, fontWeight: "bold", color: "#000", lineHeight: 25 },
        axisLine: { show: true, onZero: false, lineStyle: { color: AXIS_COLOR, width: 1 } },
        axisTick: { show: true, inside: true, length: 28, customValues: yTickValues, lineStyle: { color: AXIS_COLOR, width: 1 } },
        axisLabel: {
          show: true, customValues: yTickValues, fontFamily: FONT, fontSize: 20, color: AXIS_COLOR, margin: 8,
          formatter: (v: number) => String(v).replace("-", "\u2212"),
        },
        splitLine: { show: false },
      });
      const traces = [buildTrace(cell1Knots[i], cell1Bursts[i]), buildTrace(cell2Knots[i], cell2Bursts[i])];
      traces.forEach((data, c) => {
        series.push({
          name: seriesNames[c], type: "line", xAxisIndex: i, yAxisIndex: i, data,
          showSymbol: false, symbol: "none", clip: true,
          lineStyle: { color: seriesColors[c], width: 1 }, itemStyle: { color: seriesColors[c] },
          z: 2 + c, silent: true,
        });
      });
      series.push({
        name: "stim", type: "line", xAxisIndex: i, yAxisIndex: i,
        data: stimData(last ? stimOnsetsLast : stimOnsets),
        showSymbol: false, symbol: "none", clip: false, connectNulls: false,
        lineStyle: { color: "#FF0000", width: 4.5, cap: "round" }, z: 5, silent: true,
      });
    }
    chart.setOption({
      animation: false,
      backgroundColor: "#ffffff",
      textStyle: { fontFamily: FONT },
      grid: grids,
      xAxis: xAxes,
      yAxis: yAxes,
      legend: {
        data: seriesNames.map((n) => ({ name: n, icon: "rect" })),
        orient: "vertical", right: 38, top: 38,
        itemWidth: 63, itemHeight: 2, itemGap: 4,
        padding: [5, 5, 5, 6],
        borderColor: AXIS_COLOR, borderWidth: 1.5, backgroundColor: "#ffffff",
        textStyle: { fontFamily: FONT, fontSize: 19, color: "#000", lineHeight: 20 },
        selectedMode: false,
      },
      series,
    });
    return () => chart.dispose();
  }, []);
  return <div ref={ref} style={{ position: "absolute", left: 0, top: 0, width: 3000, height: 1875 }} />;
}
